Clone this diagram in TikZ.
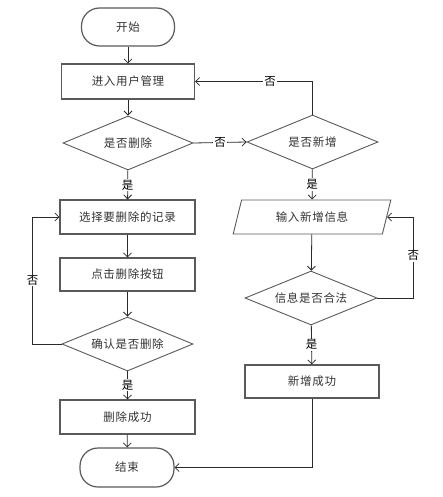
\documentclass[tikz,border=0pt]{standalone}
\usepackage{fontspec}
\usepackage{tikz}
\usetikzlibrary{arrows.meta,shapes.geometric}
\newfontfamily\cjk[LetterSpace=6]{Noto Sans CJK SC}
\definecolor{FlowLine}{HTML}{2B2B2B}
\definecolor{FlowEdge}{HTML}{5A5A5A}
\definecolor{FlowText}{HTML}{333333}
\tikzset{
  flowlabel/.style={font=\cjk\fontsize{11.5}{13}\selectfont, text=FlowText},
  flowbox/.style={draw=FlowEdge, line width=1.2pt, fill=white, inner sep=0pt},
  flowrect/.style={flowbox, rectangle, minimum width=135pt, minimum height=34pt},
  flowterm/.style={flowbox, rectangle, rounded corners=18pt, minimum width=93pt, minimum height=38pt},
  flowcheck/.style={flowbox, diamond, aspect=2.4, line width=0.9pt, minimum width=131pt, minimum height=54pt},
  flowinput/.style={flowbox, trapezium, trapezium left angle=68, trapezium right angle=112,
    trapezium stretches=true, line width=0.9pt, minimum width=158pt, minimum height=34pt},
  flowarrow/.style={-{Straight Barb[length=4pt,width=8pt]}, line width=0.8pt, draw=FlowLine},
  flowtag/.style={fill=white, inner sep=1pt, text=black}
}
\begin{document}
\begin{tikzpicture}[x=1pt, y=-1pt, every node/.style={flowlabel}]
\useasboundingbox (0,0) rectangle (442,497);
% left column
\node[flowterm] (start) at (128,27) {开始};
\node[flowrect, minimum width=133pt, minimum height=35pt] (manage) at (128,81.5) {进入用户管理};
\node[flowcheck, minimum width=130pt] (isdel) at (128,143) {是否删除};
\node[flowrect] (select) at (127.5,217) {选择要删除的记录};
\node[flowrect, minimum height=33pt] (click) at (127.5,274.5) {点击删除按钮};
\node[flowcheck] (confirm) at (127.5,344) {确认是否删除};
\node[flowrect] (delok) at (127.5,417) {删除成功};
\node[flowterm, minimum width=94pt, minimum height=39pt] (stop) at (127,467.5) {结束};
% right column
\node[flowcheck] (isadd) at (312.5,142) {是否新增};
\node[flowinput] (input) at (312,217) {输入新增信息};
\node[flowcheck, minimum width=132pt] (legal) at (311,298) {信息是否合法};
\node[flowrect, minimum width=134pt, minimum height=33pt] (addok) at (312,381.5) {新增成功};
% connectors
\draw[flowarrow] (start) -- (manage);
\draw[flowarrow] (manage) -- (isdel);
\draw[flowarrow] (isdel) -- node[flowtag] {是} (select);
\draw[flowarrow] (select) -- (click);
\draw[flowarrow] (click) -- (confirm);
\draw[flowarrow] (confirm) -- node[flowtag] {是} (delok);
\draw[flowarrow] (delok) -- (stop);
\draw[flowarrow] (confirm.west) -- ++(-29,0) |- node[flowtag, pos=0.25] {否} (select.west);
\draw[flowarrow] (isdel.east) -- node[flowtag] {否} (isadd.west);
\draw[flowarrow] (isadd.north) |- node[flowtag, pos=0.68] {否} (manage.east);
\draw[flowarrow] (isadd) -- node[flowtag] {是} (input);
\draw[flowarrow] (input) -- (legal);
\draw[flowarrow] (legal.east) -- ++(36,0) |- node[flowtag, pos=0.26] {否} (input.east);
\draw[flowarrow] (legal) -- node[flowtag] {是} (addok);
\draw[flowarrow] (addok.south) |- (stop.east);
\end{tikzpicture}
\end{document}
